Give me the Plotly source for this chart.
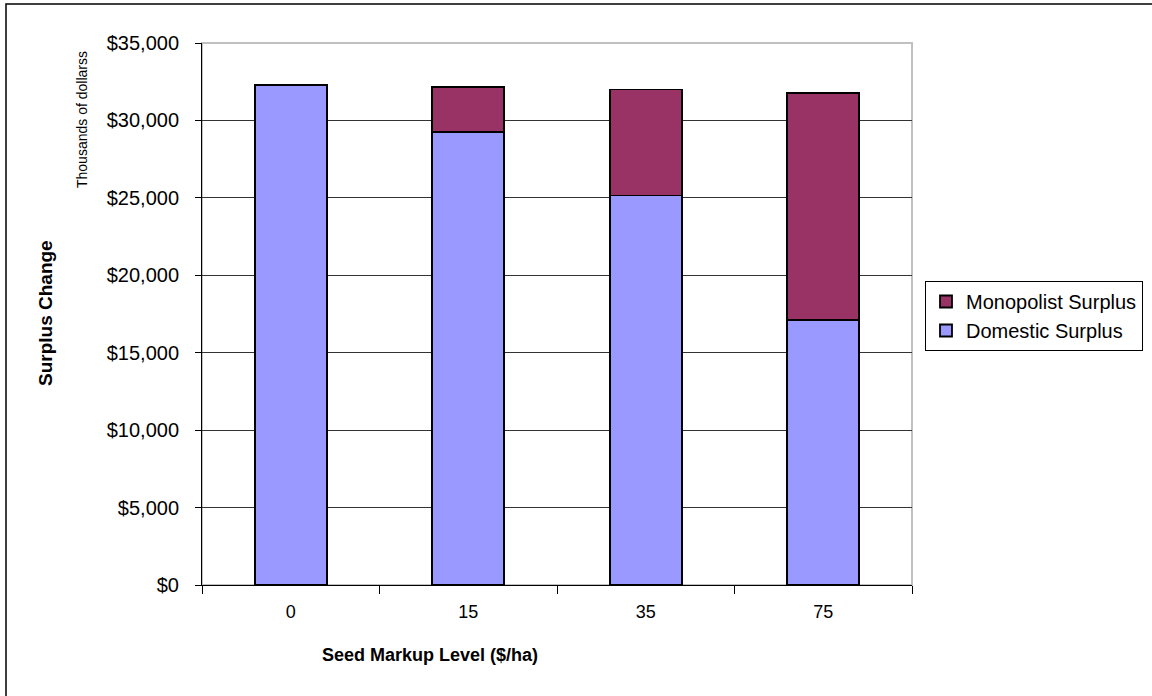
import plotly.graph_objects as go

categories = ["0", "15", "35", "75"]
domestic = [32280, 29250, 25150, 17100]
monopolist = [0, 2900, 6850, 14650]
y_ticks = [0, 5000, 10000, 15000, 20000, 25000, 30000, 35000]
y_tick_labels = [f"${v:,}" for v in y_ticks]

FONT = "Liberation Sans, Arial, sans-serif"

fig = go.Figure()
fig.add_trace(go.Bar(
    x=categories, y=domestic, name="Domestic Surplus",
    marker=dict(color="#9999FF", line=dict(color="black", width=1.8)),
))
fig.add_trace(go.Bar(
    x=categories, y=monopolist, name="Monopolist Surplus",
    marker=dict(color="#993366", line=dict(color="black", width=1.8)),
))

L, R, T, B = 202, 240, 43, 111
W, H = 1152, 696
pw = W - L - R
ph = H - T - B

def px2x(px):
    return (px - L) / pw

def py2y(py):
    return (H - B - py) / ph

fig.update_layout(
    width=W, height=H,
    margin=dict(l=L, r=R, t=T, b=B, pad=0, autoexpand=False),
    barmode="stack", bargap=0.595,
    plot_bgcolor="white", paper_bgcolor="white",
    font=dict(family=FONT, color="black", size=18),
    showlegend=True,
    legend=dict(
        traceorder="reversed",
        x=px2x(925), y=py2y(281), xanchor="left", yanchor="top",
        bordercolor="black", borderwidth=1, bgcolor="white",
        font=dict(family=FONT, size=20, color="black"),
        itemwidth=30,
    ),
    xaxis=dict(
        type="category", showline=True, linecolor="black", linewidth=1,
        ticks="outside", tickson="boundaries", ticklen=8, tickcolor="black",
        tickfont=dict(family=FONT, size=18), showgrid=False,
        ticklabelstandoff=10,
    ),
    yaxis=dict(
        range=[0, 35000], tickvals=y_ticks, ticktext=y_tick_labels,
        showline=True, linecolor="black", linewidth=1,
        ticks="outside", ticklen=6, tickcolor="black",
        showgrid=True, gridcolor="#333333", gridwidth=1,
        tickfont=dict(family=FONT, size=20), zeroline=False,
        ticklabelstandoff=12,
    ),
    shapes=[
        dict(type="rect", xref="paper", yref="paper", x0=0, x1=1, y0=0, y1=1,
             line=dict(color="#C0C0C0", width=2), layer="below"),
        dict(type="rect", xref="paper", yref="paper",
             x0=px2x(6), x1=px2x(1170), y0=py2y(4), y1=py2y(720),
             line=dict(color="black", width=1.5)),
    ],
    annotations=[
        dict(text="<b>Seed Markup Level ($/ha)</b>", xref="paper", yref="paper",
             x=px2x(430), y=py2y(655), xanchor="center", yanchor="middle",
             showarrow=False, font=dict(family=FONT, size=18)),
        dict(text="<b>Surplus Change</b>", xref="paper", yref="paper",
             x=px2x(45), y=py2y(313), xanchor="center", yanchor="middle",
             showarrow=False, textangle=-90, font=dict(family=FONT, size=19)),
        dict(text="Thousands of dollarss", xref="paper", yref="paper",
             x=px2x(82), y=py2y(120), xanchor="center", yanchor="middle",
             showarrow=False, textangle=-90, font=dict(family=FONT, size=14)),
    ],
)

fig.write_html("out.html", config={"displayModeBar": False},
               post_script="document.body.style.margin='0px';")
